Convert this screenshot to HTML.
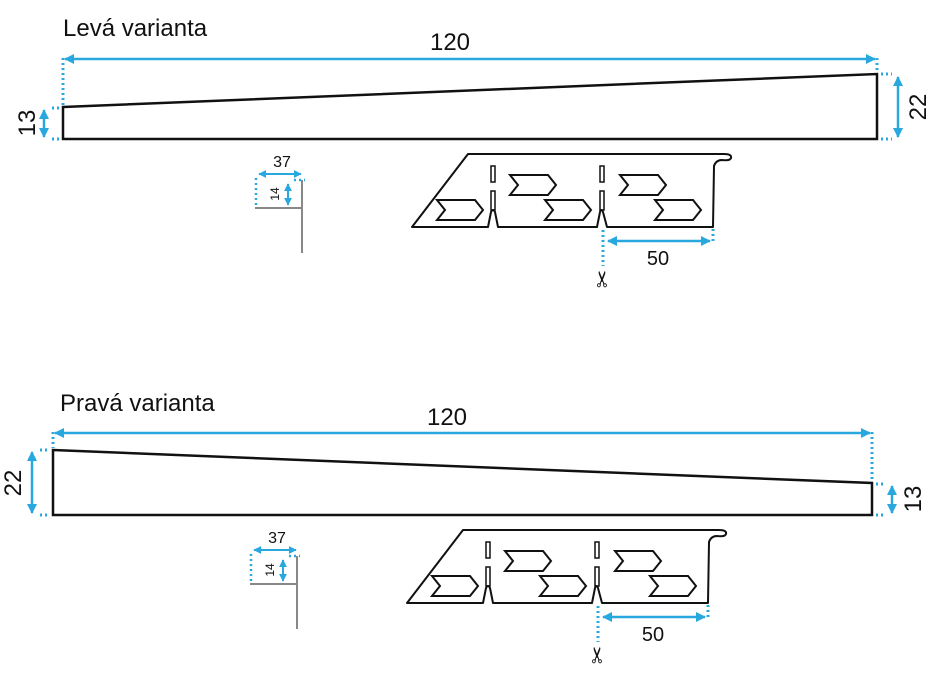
<!DOCTYPE html>
<html><head><meta charset="utf-8"><style>
body{margin:0;background:#fff}
svg{display:block}
text{font-family:"Liberation Sans",sans-serif;fill:#111}
</style></head><body>
<svg width="928" height="686" viewBox="0 0 928 686" xmlns="http://www.w3.org/2000/svg">
<defs>
<marker id="a" viewBox="0 0 10 10" refX="9" refY="5" markerWidth="4" markerHeight="4" orient="auto-start-reverse"><path d="M0,0L10,5L0,10z" fill="#29a8e0"/></marker>
<g id="chev"><path d="M0,0H38L46,10L38,20H0L8,10Z" fill="none" stroke="#111" stroke-width="2"/></g>
<g id="prof">
<path d="M412,227L468,154H724Q732,154 731,158Q730,161 722,160Q716,160 714,166L713,227H607L603,212Q601,208 600,212L597,227H498L495,212Q493,208 491,212L488,227Z" fill="none" stroke="#111" stroke-width="2" stroke-linejoin="round"/>
<rect x="491" y="166" width="4" height="16" fill="none" stroke="#111" stroke-width="1.5"/>
<rect x="491" y="191" width="4" height="19" fill="none" stroke="#111" stroke-width="1.5"/>
<rect x="600" y="166" width="4" height="16" fill="none" stroke="#111" stroke-width="1.5"/>
<rect x="600" y="191" width="4" height="19" fill="none" stroke="#111" stroke-width="1.5"/>
<use href="#chev" x="437" y="200"/>
<use href="#chev" x="510" y="175"/>
<use href="#chev" x="545" y="200"/>
<use href="#chev" x="620" y="175"/>
<use href="#chev" x="655" y="200"/>
<line x1="603" y1="230" x2="603" y2="266" stroke="#29a8e0" stroke-width="3" stroke-dasharray="2,3"/>
<line x1="713" y1="229" x2="713" y2="242" stroke="#29a8e0" stroke-width="3" stroke-dasharray="2,3"/>
<line x1="608" y1="241" x2="710" y2="241" stroke="#29a8e0" stroke-width="2.5" marker-start="url(#a)" marker-end="url(#a)"/>
<text x="658" y="265" font-size="20" text-anchor="middle">50</text>
<text transform="translate(610,279) rotate(-90)" font-size="22" text-anchor="middle">✂</text>
<!-- small profile -->
<text x="282" y="167" font-size="16" text-anchor="middle">37</text>
<line x1="259" y1="174" x2="301" y2="174" stroke="#29a8e0" stroke-width="2" marker-start="url(#a)" marker-end="url(#a)"/>
<line x1="256" y1="178" x2="256" y2="206" stroke="#29a8e0" stroke-width="2.5" stroke-dasharray="2,3"/>
<line x1="294" y1="180" x2="305" y2="180" stroke="#29a8e0" stroke-width="2.5" stroke-dasharray="2,3"/>
<line x1="288" y1="184" x2="288" y2="205" stroke="#29a8e0" stroke-width="2" marker-start="url(#a)" marker-end="url(#a)"/>
<text transform="translate(279,194) rotate(-90)" font-size="12" text-anchor="middle">14</text>
<path d="M255,208H302M302,180V253" fill="none" stroke="#888" stroke-width="2"/>
</g>
</defs>

<!-- TOP -->
<text x="63" y="36" font-size="24">Levá varianta</text>
<text x="450" y="50" font-size="24" text-anchor="middle">120</text>
<line x1="65" y1="59" x2="875" y2="59" stroke="#29a8e0" stroke-width="2.5" marker-start="url(#a)" marker-end="url(#a)"/>
<line x1="63" y1="58" x2="63" y2="105" stroke="#29a8e0" stroke-width="3" stroke-dasharray="2,3"/>
<line x1="877" y1="58" x2="877" y2="72" stroke="#29a8e0" stroke-width="3" stroke-dasharray="2,3"/>
<path d="M63,107L877,74V139H63Z" fill="none" stroke="#111" stroke-width="2.5"/>
<line x1="44" y1="110" x2="44" y2="137" stroke="#29a8e0" stroke-width="2.5" marker-start="url(#a)" marker-end="url(#a)"/>
<line x1="52" y1="108" x2="61" y2="108" stroke="#29a8e0" stroke-width="3" stroke-dasharray="2,3"/>
<line x1="52" y1="139" x2="61" y2="139" stroke="#29a8e0" stroke-width="3" stroke-dasharray="2,3"/>
<text transform="translate(35,123) rotate(-90)" font-size="24" text-anchor="middle">13</text>
<line x1="898" y1="77" x2="898" y2="137" stroke="#29a8e0" stroke-width="2.5" marker-start="url(#a)" marker-end="url(#a)"/>
<line x1="881" y1="74" x2="892" y2="74" stroke="#29a8e0" stroke-width="3" stroke-dasharray="2,3"/>
<line x1="881" y1="139" x2="892" y2="139" stroke="#29a8e0" stroke-width="3" stroke-dasharray="2,3"/>
<text transform="translate(926,107) rotate(-90)" font-size="24" text-anchor="middle">22</text>
<use href="#prof"/>

<!-- BOTTOM -->
<text x="60" y="411" font-size="24">Pravá varianta</text>
<text x="447" y="425" font-size="24" text-anchor="middle">120</text>
<line x1="55" y1="433" x2="870" y2="433" stroke="#29a8e0" stroke-width="2.5" marker-start="url(#a)" marker-end="url(#a)"/>
<line x1="53" y1="432" x2="53" y2="448" stroke="#29a8e0" stroke-width="3" stroke-dasharray="2,3"/>
<line x1="872" y1="432" x2="872" y2="481" stroke="#29a8e0" stroke-width="3" stroke-dasharray="2,3"/>
<path d="M53,450L872,483V515H53Z" fill="none" stroke="#111" stroke-width="2.5"/>
<line x1="32" y1="452" x2="32" y2="513" stroke="#29a8e0" stroke-width="2.5" marker-start="url(#a)" marker-end="url(#a)"/>
<line x1="40" y1="450" x2="49" y2="450" stroke="#29a8e0" stroke-width="3" stroke-dasharray="2,3"/>
<line x1="40" y1="515" x2="49" y2="515" stroke="#29a8e0" stroke-width="3" stroke-dasharray="2,3"/>
<text transform="translate(21,483) rotate(-90)" font-size="24" text-anchor="middle">22</text>
<line x1="892" y1="486" x2="892" y2="513" stroke="#29a8e0" stroke-width="2.5" marker-start="url(#a)" marker-end="url(#a)"/>
<line x1="876" y1="484" x2="885" y2="484" stroke="#29a8e0" stroke-width="3" stroke-dasharray="2,3"/>
<line x1="876" y1="515" x2="885" y2="515" stroke="#29a8e0" stroke-width="3" stroke-dasharray="2,3"/>
<text transform="translate(921,499) rotate(-90)" font-size="24" text-anchor="middle">13</text>
<use href="#prof" x="-5" y="376"/>
</svg>
</body></html>
